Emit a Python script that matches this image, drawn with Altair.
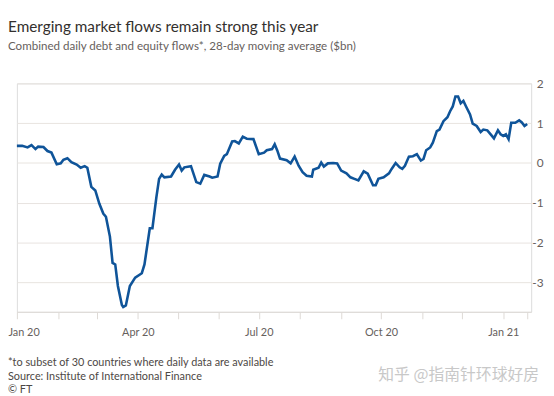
import altair as alt
import pandas as pd

FONT = "Lato"

dates = [
    "2020-01-01", "2020-01-05", "2020-01-09", "2020-01-12", "2020-01-15", "2020-01-17",
    "2020-01-21", "2020-01-24", "2020-01-27", "2020-01-31", "2020-02-03", "2020-02-05",
    "2020-02-08", "2020-02-11", "2020-02-15", "2020-02-18", "2020-02-21", "2020-02-23",
    "2020-02-26", "2020-02-29", "2020-03-03", "2020-03-06", "2020-03-08", "2020-03-11",
    "2020-03-13", "2020-03-15", "2020-03-17", "2020-03-20", "2020-03-21", "2020-03-23",
    "2020-03-26", "2020-03-30", "2020-04-04", "2020-04-06", "2020-04-10", "2020-04-12",
    "2020-04-15", "2020-04-17", "2020-04-19", "2020-04-21", "2020-04-26", "2020-04-29",
    "2020-05-02", "2020-05-04", "2020-05-06", "2020-05-11", "2020-05-15", "2020-05-18",
    "2020-05-21", "2020-05-25", "2020-05-27", "2020-05-31", "2020-06-02", "2020-06-05",
    "2020-06-07", "2020-06-11", "2020-06-13", "2020-06-16", "2020-06-19", "2020-06-22",
    "2020-06-27", "2020-07-01", "2020-07-05", "2020-07-07", "2020-07-11", "2020-07-13",
    "2020-07-15", "2020-07-17", "2020-07-22", "2020-07-25", "2020-07-28", "2020-07-31",
    "2020-08-03", "2020-08-06", "2020-08-10", "2020-08-11", "2020-08-15", "2020-08-17",
    "2020-08-19", "2020-08-22", "2020-08-26", "2020-08-29", "2020-09-01", "2020-09-05",
    "2020-09-08", "2020-09-11", "2020-09-14", "2020-09-18", "2020-09-21", "2020-09-25",
    "2020-09-27", "2020-09-29", "2020-10-03", "2020-10-07", "2020-10-09", "2020-10-12",
    "2020-10-15", "2020-10-17", "2020-10-19", "2020-10-22", "2020-10-25", "2020-10-28",
    "2020-10-31", "2020-11-02", "2020-11-04", "2020-11-07", "2020-11-09", "2020-11-12",
    "2020-11-14", "2020-11-17", "2020-11-20", "2020-11-22", "2020-11-24", "2020-11-26",
    "2020-11-28", "2020-11-30", "2020-12-02", "2020-12-04", "2020-12-07", "2020-12-09",
    "2020-12-12", "2020-12-15", "2020-12-17", "2020-12-20", "2020-12-23", "2020-12-25",
    "2020-12-28", "2020-12-30", "2021-01-01", "2021-01-03", "2021-01-05", "2021-01-07",
    "2021-01-10", "2021-01-13", "2021-01-15", "2021-01-17", "2021-01-19",
]
values = [
    0.43, 0.43, 0.39, 0.45, 0.35, 0.41,
    0.40, 0.30, 0.26, -0.03, -0.01, 0.08,
    0.12, 0.02, -0.04, -0.12, -0.08, -0.12,
    -0.60, -0.69, -1.02, -1.27, -1.35, -1.85,
    -2.51, -2.55, -3.09, -3.57, -3.62, -3.58,
    -3.09, -2.88, -2.77, -2.55, -1.64, -1.64,
    -0.85, -0.40, -0.29, -0.36, -0.34, -0.17,
    -0.04, -0.19, -0.11, -0.08, -0.48, -0.52,
    -0.30, -0.34, -0.37, -0.34, -0.02, 0.18,
    0.22, 0.54, 0.55, 0.49, 0.66, 0.61,
    0.60, 0.22, 0.26, 0.32, 0.35, 0.47,
    0.31, 0.11, 0.07, -0.01, 0.16, -0.07,
    -0.23, -0.32, -0.34, -0.17, -0.12, 0.01,
    -0.09, -0.01, 0.00, -0.01, -0.19, -0.26,
    -0.36, -0.40, -0.44, -0.21, -0.27, -0.56,
    -0.56, -0.40, -0.36, -0.26, -0.15, 0.00,
    -0.11, -0.15, -0.07, 0.16, 0.17, 0.22,
    0.06, 0.10, 0.32, 0.39, 0.51, 0.80,
    0.84, 1.05, 1.15, 1.30, 1.42, 1.67,
    1.67, 1.50, 1.56, 1.42, 1.22, 0.99,
    0.93, 0.78, 0.84, 0.82, 0.70, 0.62,
    0.82, 0.72, 0.68, 0.72, 0.60, 1.01,
    1.01, 1.07, 1.02, 0.93, 0.98,
]

y_ticks = [-3, -2, -1, 0, 1, 2]
x_tick_dates = [
    "2020-01-01", "2020-02-01", "2020-03-01", "2020-04-01", "2020-05-01", "2020-06-01",
    "2020-07-01", "2020-08-01", "2020-09-01", "2020-10-01", "2020-11-01", "2020-12-01",
    "2021-01-01", "2021-01-19",
]
x_domain = ["2020-01-01", "2021-01-22"]
y_domain = [-3.74, 2.0]

title_text = "Emerging market flows remain strong this year"
subtitle_text = "Combined daily debt and equity flows*, 28-day moving average ($bn)"
notes = [
    "*to subset of 30 countries where daily data are available",
    "Source: Institute of International Finance",
    "© FT",
]
watermark = "知乎 @指南针环球好房"


def to_dt(s):
    t = pd.Timestamp(s)
    return alt.DateTime(year=t.year, month=t.month, date=t.day)


df = pd.DataFrame({"date": pd.to_datetime(dates), "value": values})

line = alt.Chart(df).mark_line(color="#0f5499", strokeWidth=2.6).encode(
    x=alt.X(
        "date:T",
        scale=alt.Scale(domain=[to_dt(d) for d in x_domain]),
        axis=alt.Axis(
            title=None,
            values=[to_dt(d) for d in x_tick_dates],
            labelExpr="(month(datum.value) % 3 == 0 && date(datum.value) == 1) ? timeFormat(datum.value, '%b %y') : ''",
            grid=False,
            domain=True,
            domainColor="#dedad6",
            ticks=True,
            tickColor="#dedad6",
            tickSize=7,
            labelPadding=8,
            labelFont=FONT,
            labelFontSize=11,
            labelColor="#66605c",
            labelAlign={"condition": {"test": "datum.index == 0", "value": "left"}, "value": "center"},
            labelOffset={"condition": {"test": "datum.index == 0", "value": -9}, "value": 0},
        ),
    ),
    y=alt.Y(
        "value:Q",
        scale=alt.Scale(domain=y_domain, nice=False, zero=False),
        axis=alt.Axis(
            title=None,
            orient="right",
            values=y_ticks,
            labelExpr="'' + datum.value",
            grid=True,
            gridColor="#e8e4e0",
            domain=False,
            ticks=False,
            labelAlign="right",
            labelPadding=12,
            labelFont=FONT,
            labelFontSize=12,
            labelColor="#66605c",
        ),
    ),
)

foot = alt.Chart(pd.DataFrame({"t": ["\n".join(notes)]})).mark_text(
    align="left", baseline="alphabetic", lineBreak="\n", lineHeight=13.5,
    fontSize=11, font=FONT, color="#4d4845",
).encode(text="t:N", x=alt.value(-9), y=alt.value(286))

wm = alt.Chart(pd.DataFrame({"t": [watermark]})).mark_text(
    align="right", baseline="alphabetic", fontSize=16,
    font="Noto Sans CJK SC", color="#c8c8c8",
).encode(text="t:N", x=alt.value(528), y=alt.value(300))

chart = alt.layer(line, foot, wm).properties(
    width=520,
    height=231,
    autosize=alt.AutoSizeParams(type="none"),
    padding={"left": 9, "top": 74, "right": 15, "bottom": 92},
    title=alt.Title(
        text=title_text,
        subtitle=subtitle_text,
        anchor="start",
        frame="group",
        dx=-9,
        offset=25,
        font=FONT,
        fontSize=15.5,
        fontWeight="normal",
        color="#33302e",
        subtitleFont=FONT,
        subtitleFontSize=11.7,
        subtitleColor="#66605c",
        subtitlePadding=6,
    ),
).configure_view(stroke=None).configure(background="white")

chart.save("out.html", embed_options={"renderer": "svg", "actions": False})
